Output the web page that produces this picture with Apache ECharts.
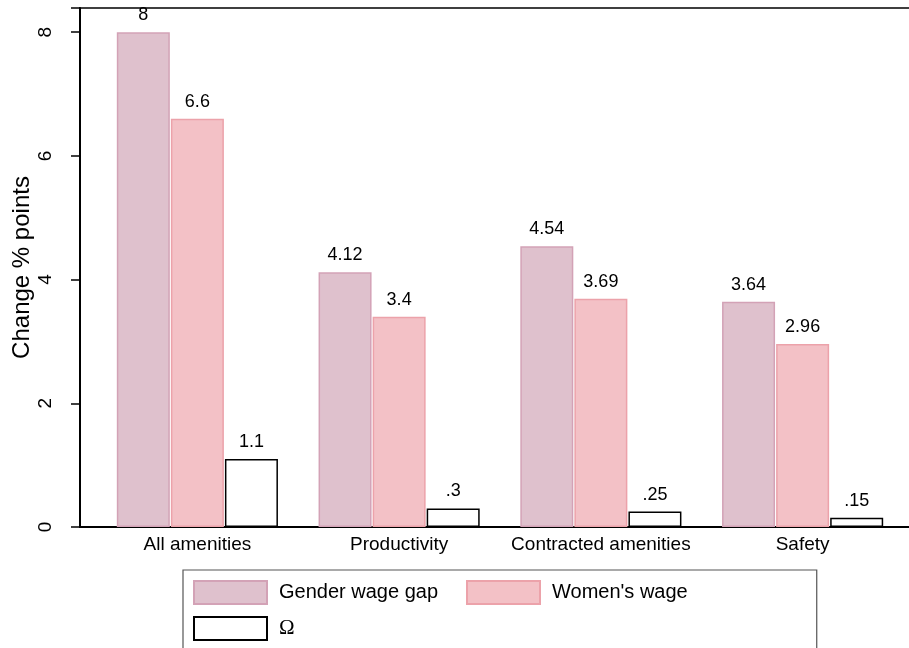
<!DOCTYPE html>
<html><head><meta charset="utf-8">
<script src="https://cdn.jsdelivr.net/npm/echarts@6/dist/echarts.min.js"></script>
<style>html,body{margin:0;padding:0;background:#fff}#c{width:909px;height:648px}</style>
</head><body><div id="c"></div>
<script>
const categories = ['All amenities', 'Productivity', 'Contracted amenities', 'Safety'];
const genderGap = [8, 4.12, 4.54, 3.64];
const womensWage = [6.6, 3.4, 3.69, 2.96];
const omega = [1.1, 0.3, 0.25, 0.15];
const yTicks = [0, 2, 4, 6, 8];

const FONT = '"Liberation Sans", Arial, sans-serif';
const fmt = v => { let s = String(v); if (s.startsWith('0.')) s = s.slice(1); return s; };
const chart = echarts.init(document.getElementById('c'));
const labelCfg = {show: true, position: 'top', distance: 8, color: '#000', fontSize: 18, fontFamily: FONT,
  formatter: p => fmt(p.value)};
const YMAX = 8.39;
chart.setOption({
  animation: false,
  textStyle: {fontFamily: FONT},
  grid: [
    {left: 80, right: -3, top: 8, bottom: 121, show: true, borderColor: '#000', borderWidth: 1.5,
      containLabel: false, outerBoundsMode: 'none'},
    {left: 96.5, width: 807, top: 8, bottom: 121, containLabel: false, outerBoundsMode: 'none'}
  ],
  xAxis: [
    {gridIndex: 0, type: 'value', min: 0, max: 1, axisLine: {show: true, lineStyle: {color: '#000', width: 2}},
      axisTick: {show: false}, axisLabel: {show: false}, splitLine: {show: false}},
    {gridIndex: 1, type: 'category', data: categories, axisLine: {show: false}, axisTick: {show: false},
      axisLabel: {color: '#000', fontSize: 19, margin: 8, interval: 0, hideOverlap: false, fontFamily: FONT}}
  ],
  yAxis: [
    {gridIndex: 0, type: 'value', min: 0, max: YMAX, interval: 2,
      axisLine: {show: true, lineStyle: {color: '#000', width: 2}},
      axisTick: {show: true, length: 9, lineStyle: {color: '#000', width: 1.5}},
      axisLabel: {rotate: 90, color: '#000', fontSize: 19, margin: 25, fontFamily: FONT,
        formatter: v => yTicks.includes(v) ? '{t|' + v + '}' : '',
        rich: {t: {fontSize: 19, color: '#000', fontFamily: FONT}}},
      splitLine: {show: false},
      name: 'Change % points', nameLocation: 'middle', nameGap: 46, nameMoveOverlap: false,
      nameTextStyle: {color: '#000', fontSize: 24, fontFamily: FONT}},
    {gridIndex: 1, type: 'value', min: 0, max: YMAX, show: false}
  ],
  legend: {
    left: 183, top: 570, width: 540, orient: 'horizontal', itemWidth: 73, itemHeight: 23, itemGap: 11,
    padding: [10, 112, 10, 10], borderColor: '#555', borderWidth: 1.2,
    textStyle: {color: '#000', fontSize: 20, lineHeight: 23, fontFamily: FONT, padding: [0, 17, 0, 7]},
    data: [
      {name: 'Gender wage gap', icon: 'rect'},
      {name: "Women's wage", icon: 'rect'},
      {name: 'Ω', icon: 'rect', textStyle: {fontFamily: '"Liberation Serif", serif', fontSize: 21}}
    ]
  },
  series: [
    {name: 'Gender wage gap', type: 'bar', xAxisIndex: 1, yAxisIndex: 1, data: genderGap,
      barWidth: 53, barGap: '2%', label: labelCfg,
      itemStyle: {color: '#dfc1cd', borderColor: '#d3a2b6', borderWidth: 1.5}},
    {name: "Women's wage", type: 'bar', xAxisIndex: 1, yAxisIndex: 1, data: womensWage,
      barWidth: 53, barGap: '2%', label: labelCfg,
      itemStyle: {color: '#f3c1c6', borderColor: '#eca2aa', borderWidth: 1.5}},
    {name: 'Ω', type: 'bar', xAxisIndex: 1, yAxisIndex: 1, data: omega,
      barWidth: 53, barGap: '2%', label: labelCfg,
      itemStyle: {color: '#ffffff', borderColor: '#000', borderWidth: 1.5}}
  ]
});
</script></body></html>
